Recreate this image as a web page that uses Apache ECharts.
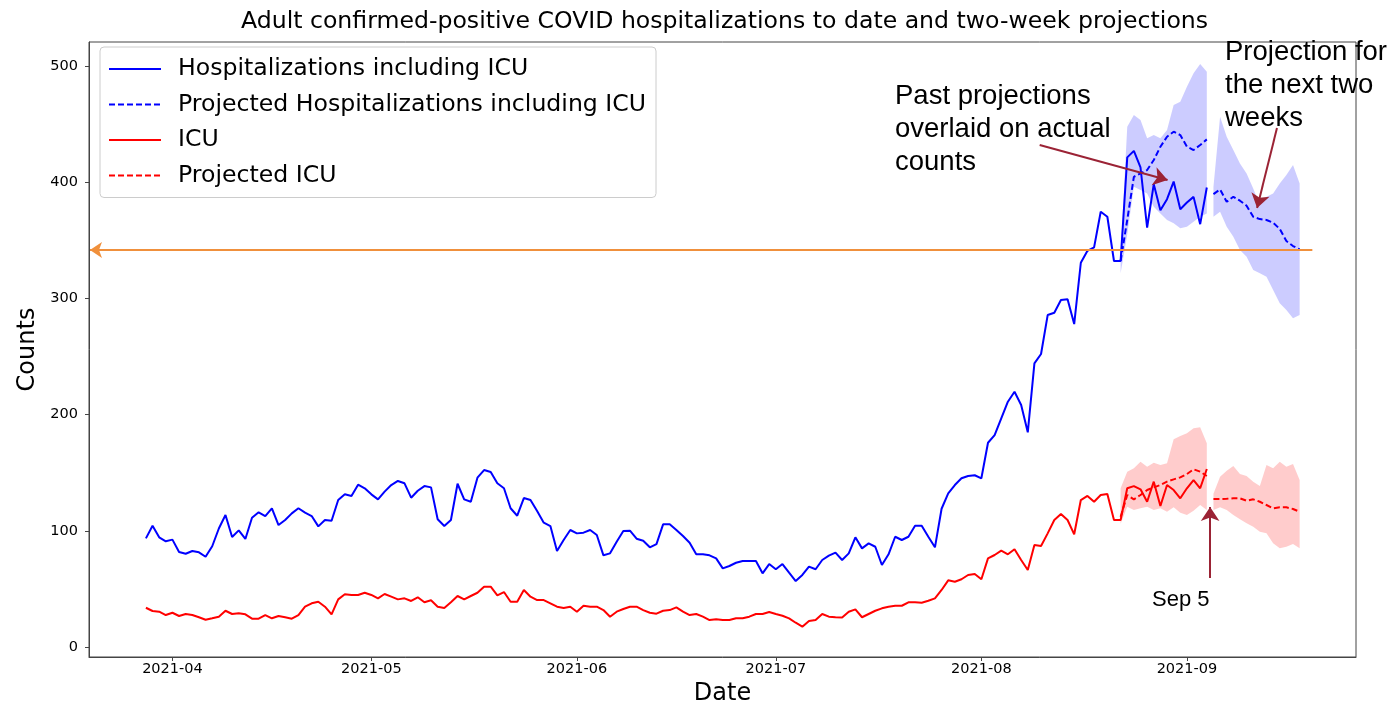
<!DOCTYPE html>
<html>
<head>
<meta charset="utf-8">
<script src="https://cdn.jsdelivr.net/npm/echarts@6/dist/echarts.min.js"></script>
<style>
html,body{margin:0;padding:0;background:#fff;}
#chart{width:1396px;height:706px;}
</style>
</head>
<body>
<div id="chart"></div>
<script>
// ---------------- DATA ----------------
const actualStart = '2021-03-28';   // first day of actual counts (daily)
const pastProjStart = '2021-08-22'; // first day of past projections
const nextProjStart = '2021-09-05'; // first day of next two-week projections

const hospitalizations = [
  93.5,104.4,94.4,91,92.4,81.8,80.3,82.6,81.5,77.7,86.7,102,113.6,94.7,100.4,93,111.3,115.9,112.7,119.4,
  105,109.3,115,119.4,115.6,112.7,103.8,109.3,108.7,126.5,131.4,130,139.7,136.6,131.4,127.1,133.7,139.4,142.9,140.9,
  128.5,134.5,138.5,137.4,109.9,104.1,109.3,140.5,127.1,125,145.7,152.3,150.6,140.9,136.6,119.4,113,128.2,126.5,117,
  107,104.1,82.6,92.1,100.7,97.8,98.4,100.7,96.4,78.9,80.6,90.6,99.8,100.1,93.2,91.5,85.8,88.6,105.6,105.6,
  100.7,95.5,89.8,79.8,79.8,78.9,76.3,67.7,69.7,72.5,74,74,74,63.4,71.4,66.9,71.4,64,56.8,62,
  69.2,66.9,74.9,78.6,81.2,74.9,80.6,94.4,84.9,89.2,86.3,70.6,79.8,94.9,92.1,94.9,104.4,104.4,94.9,85.8,
  119,132.3,139.4,145.2,147.2,147.8,145.2,175.8,182.4,196.8,211.1,219.7,208.3,184.8,244.1,252.2,285.7,287.7,298.6,299.2,
  277.9,330.7,341,344,374.6,370.3,332.2,332.2,421.4,427,412.7,361,398.3,375.9,385.4,400.6,376.8,382.5,387.4,363.9,
  395.5
];
const icu = [
  33.8,31,30.4,27.5,29.5,26.7,28.4,27.5,25.6,23.5,24.7,26.1,31.2,28.4,29,28.1,24.4,24.4,27.5,24.7,
  26.7,25.6,24.4,27.5,34.7,37.6,39,34.7,28.1,41,45.4,44.8,44.8,46.7,44.8,41.9,45.6,43.3,41,41.9,
  39.6,42.8,38.5,40.2,34.7,33.6,38.5,43.9,41,43.9,46.7,51.9,51.9,44.5,47.3,39,39,49.1,43.3,40.4,
  40.4,37.6,34.7,33.6,34.7,30.4,35.5,34.7,34.7,31.8,26.1,30.4,32.7,34.7,34.7,31.8,29.5,28.7,31.2,31.8,
  34.1,30.4,27.5,28.4,26.1,23.2,23.8,23.2,23.2,24.7,24.7,26.1,28.4,28.4,30.1,28.4,26.9,24.7,20.9,17.5,
  22.4,23.2,28.4,26.1,25.6,25.4,30.4,32.4,25.6,28.4,31.2,33.3,34.7,35.5,35.5,38.5,38.5,38.1,39.8,41.9,
  49.1,57.4,56.2,58.3,62,62.8,58.3,76.3,79.2,82.9,79.8,84.1,74.9,66.3,87.8,86.9,97.8,109.3,114.5,109.3,
  97,126.5,130,125,130.8,131.7,109.3,109.3,136.6,138.5,135.7,125,142.3,121.3,139.4,135.1,128,136.6,143.7,136.6,
  153.2
];

// past projections (Aug 22 - Sep 4)
const pastHosp   = [332.2,367.5,404.7,407.6,410.5,419.1,430.6,439.2,443.5,440.6,430.6,427.7,432,436.9];
const pastHospHi = [338,447.8,457.8,453.5,437.8,440.6,437.8,444.9,466.4,469.3,482.2,493.7,501.7,495.1];
const pastHospLo = [321.6,355,396.1,393.3,390.4,379,373.2,367.5,364.6,360.3,361.7,366,370.3,373.2];
const pastIcu    = [112,130.8,127.1,130.8,135.1,137.4,139.4,142.3,144.3,146,148.9,152.9,150.9,147.2];
const pastIcuHi  = [136.6,150.9,153.8,159.5,155.2,158.6,156.6,158.1,178.7,181.6,183.9,188.2,189.1,175.3];
const pastIcuLo  = [106,120.7,117.9,119.4,120.7,117.9,119.4,116.4,120.2,115.6,113.6,117.3,122.2,117.9];

// next two-week projections (Sep 5 - Sep 18)
const nextHosp   = [389.8,393.8,383.2,387.5,384.1,379.8,370.3,368.3,367.5,365.2,359.8,349.4,345.1,342.2];
const nextHospHi = [396,456.4,439.2,427.7,416.2,407.6,394.7,380.4,387.5,390.4,399,406.2,414.8,399];
const nextHospLo = [370.3,374.6,361.7,353.1,341.7,335.9,324.4,321.6,318.7,307.2,295.8,290,282.9,285.7];
const nextIcu    = [127.4,127.4,127.6,128,128,125.9,127.1,125,122.2,119.4,120.2,120.2,118.8,116.4];
const nextIcuHi  = [132,146.6,151.7,155.8,148.9,147.2,142.3,138.5,156.6,153.8,159.5,155.2,157.5,143.7];
const nextIcuLo  = [118,120.2,117.9,113.6,109.9,106.5,103.5,99.2,97.8,89.2,84.9,86.3,88.6,84.9];

const capacityLine = 341.6;          // orange horizontal reference
const monthTicks = ['2021-04-01','2021-05-01','2021-06-01','2021-07-01','2021-08-01','2021-09-01'];
const yTicks = [0,100,200,300,400,500];
const seriesNames = ['Hospitalizations including ICU','Projected Hospitalizations including ICU','ICU','Projected ICU'];

// ---------------- BUILD ----------------
const DAY = 86400000;
const t0 = s => Date.parse(s + 'T00:00:00Z');
const toPairs = (startStr, arr) => arr.map((v,i)=>[t0(startStr)+i*DAY, v]);
const ts = s => Date.parse(s);
const fmtMonth = v => {const d=new Date(v);return d.getUTCFullYear()+'-'+String(d.getUTCMonth()+1).padStart(2,'0');};

const BLUE='#0000ff', RED='#ff0000', ANN='#9b2335';

function band(id, startStr, lo, hi, color){
  const xs = lo.map((_,i)=>t0(startStr)+i*DAY);
  return {type:'custom', id:id, silent:true, z:1,
    data: xs.map((x,i)=>[x, lo[i], hi[i]]),
    encode:{x:0, y:[1,2]},
    renderItem:function(params, api){
      if(params.dataIndex!==0) return null;
      const pts=[];
      for(let i=0;i<xs.length;i++) pts.push(api.coord([xs[i], hi[i]]));
      for(let i=xs.length-1;i>=0;i--) pts.push(api.coord([xs[i], lo[i]]));
      return {type:'polygon', shape:{points:pts}, style:{fill:color}};
    }};
}

const xMin = ts('2021-03-19T10:00:00Z'), xMax = ts('2021-09-26T12:00:00Z');

const chart = echarts.init(document.getElementById('chart'), null, {renderer:'canvas'});
const option = {
  animation:false,
  title:{text:'Adult confirmed-positive COVID hospitalizations to date and two-week projections',
    left:236, top:5, textStyle:{fontFamily:'DejaVu Sans', fontSize:23.6, fontWeight:'normal', color:'#000'}},
  grid:{left:89, right:40, top:42, bottom:49, show:true, borderColor:'#444', borderWidth:1,
    containLabel:false, outerBoundsMode:'none'},
  legend:{orient:'vertical', left:100, top:47, data:seriesNames,
    itemWidth:52, itemHeight:26, itemGap:9.5, padding:[9,10,9,8],
    itemStyle:{opacity:0},
    textStyle:{fontFamily:'DejaVu Sans', fontSize:23.6, color:'#000', lineHeight:26, padding:[0,0,0,12]},
    backgroundColor:'rgba(255,255,255,0.8)', borderColor:'#cccccc', borderWidth:1, borderRadius:4},
  xAxis:{type:'value', min:xMin, max:xMax, scale:true,
    name:'Date', nameLocation:'middle', nameGap:24,
    nameTextStyle:{fontFamily:'DejaVu Sans', fontSize:24, color:'#000'},
    axisLine:{show:true, onZero:false, lineStyle:{color:'#444'}},
    axisTick:{show:true, length:4, lineStyle:{color:'#444'}, customValues:monthTicks.map(t0)},
    axisLabel:{fontFamily:'DejaVu Sans', fontSize:14.5, color:'#000', margin:5,
      customValues:monthTicks.map(t0), formatter:fmtMonth},
    splitLine:{show:false}},
  yAxis:{type:'value', min:-8.6, max:520.7,
    name:'Counts', nameLocation:'middle', nameGap:48,
    nameTextStyle:{fontFamily:'DejaVu Sans', fontSize:24, color:'#000'},
    axisLine:{show:true, onZero:false, lineStyle:{color:'#444'}},
    axisTick:{show:true, length:4, lineStyle:{color:'#444'}, customValues:yTicks},
    axisLabel:{fontFamily:'DejaVu Sans', fontSize:14.5, color:'#000', margin:11, customValues:yTicks},
    splitLine:{show:false}},
  graphic:[
    {type:'text', left:895, top:80, z:100, style:{text:'Past projections\noverlaid on actual\ncounts',
      font:'27.5px "Liberation Sans", Arial, sans-serif', fill:'#000', lineHeight:33}},
    {type:'text', left:1225, top:36, z:100, style:{text:'Projection for\nthe next two\nweeks',
      font:'27.5px "Liberation Sans", Arial, sans-serif', fill:'#000', lineHeight:33}},
    {type:'text', left:1152, top:589, z:100, style:{text:'Sep 5',
      font:'22px "Liberation Sans", Arial, sans-serif', fill:'#000'}}
  ],
  series:[
    band('bandHospPast', pastProjStart, pastHospLo, pastHospHi, 'rgba(0,0,255,0.2)'),
    band('bandHospNext', nextProjStart, nextHospLo, nextHospHi, 'rgba(0,0,255,0.2)'),
    band('bandIcuPast', pastProjStart, pastIcuLo, pastIcuHi, 'rgba(255,0,0,0.2)'),
    band('bandIcuNext', nextProjStart, nextIcuLo, nextIcuHi, 'rgba(255,0,0,0.2)'),
    {name:seriesNames[0], type:'line', data:toPairs(actualStart, hospitalizations), symbol:'none',
      lineStyle:{color:BLUE, width:2}, itemStyle:{color:BLUE}, z:3,
      markLine:{silent:true, animation:false, label:{show:false}, symbol:['arrow','none'], symbolSize:12,
        lineStyle:{color:'#f0903c', width:2, type:'solid'},
        data:[
          [{coord:[xMin+0.15*DAY, capacityLine]},
           {coord:[ts('2021-09-19T22:00:00Z'), capacityLine]}]
        ]}},
    {name:seriesNames[1], type:'line', data:toPairs(pastProjStart, pastHosp), symbol:'none',
      lineStyle:{color:BLUE, width:2, type:[6,3]}, itemStyle:{color:BLUE}, z:3},
    {name:seriesNames[1], type:'line', data:toPairs(nextProjStart, nextHosp), symbol:'none',
      lineStyle:{color:BLUE, width:2, type:[6,3]}, itemStyle:{color:BLUE}, z:3},
    {name:seriesNames[2], type:'line', data:toPairs(actualStart, icu), symbol:'none',
      lineStyle:{color:RED, width:2}, itemStyle:{color:RED}, z:3,
      markLine:{silent:true, animation:false, label:{show:false}, symbol:['none','arrow'], symbolSize:14,
        lineStyle:{color:ANN, width:2, type:'solid'},
        data:[
          [{coord:[ts('2021-08-09T19:00:00Z'),432]},{coord:[ts('2021-08-29T02:00:00Z'),401.9]}],
          [{coord:[ts('2021-09-14T14:00:00Z'),446.6]},{coord:[ts('2021-09-11T14:00:00Z'),377.8]}],
          [{coord:[ts('2021-09-04T12:00:00Z'),59.4]},{coord:[ts('2021-09-04T12:00:00Z'),120.5]}]
        ]}},
    {name:seriesNames[3], type:'line', data:toPairs(pastProjStart, pastIcu), symbol:'none',
      lineStyle:{color:RED, width:2, type:[6,3]}, itemStyle:{color:RED}, z:3},
    {name:seriesNames[3], type:'line', data:toPairs(nextProjStart, nextIcu), symbol:'none',
      lineStyle:{color:RED, width:2, type:[6,3]}, itemStyle:{color:RED}, z:3}
  ]
};
chart.setOption(option);
</script>
</body>
</html>
